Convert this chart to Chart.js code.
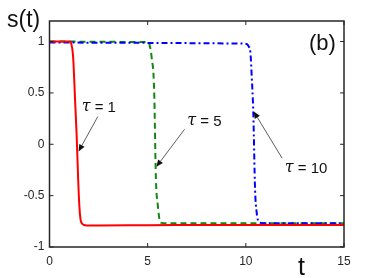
<!DOCTYPE html>
<html>
<head>
<meta charset="utf-8">
<script src="https://cdn.jsdelivr.net/npm/chart.js@4/dist/chart.umd.min.js"></script>
<style>
  html, body { margin: 0; padding: 0; background: #fff; }
  #wrap { width: 382px; height: 278px; }
</style>
</head>
<body>
<div id="wrap"><canvas id="chart" width="382" height="278"></canvas></div>
<script>
// s(t) switching curves for three delays

const xTicks = [0, 5, 10, 15];
const yTicks = [-1, -0.5, 0, 0.5, 1];

// tau = 1 (red, solid)
const t1 = [0, 1.05, 1.12, 1.18, 1.22, 1.3, 1.38, 1.46, 1.52, 1.58, 1.65, 1.75, 1.9, 2.5, 5, 10, 15];
const s1 = [1, 1, 0.97, 0.9, 0.8, 0.44, 0.1, -0.34, -0.6, -0.73, -0.77, -0.785, -0.79, -0.79, -0.788, -0.785, -0.785];

// tau = 5 (green, dashed)
const t5 = [0, 4.9, 5.05, 5.12, 5.2, 5.33, 5.42, 5.52, 5.6, 5.7, 6, 10, 15];
const s5 = [1, 0.995, 0.99, 0.95, 0.85, 0.53, -0.34, -0.6, -0.73, -0.765, -0.77, -0.77, -0.77];

// tau = 10 (blue, dash-dot)
const t10 = [0, 9.9, 10.06, 10.15, 10.23, 10.3, 10.38, 10.47, 10.55, 10.62, 10.75, 11, 15];
const s10 = [0.99, 0.98, 0.975, 0.95, 0.9, 0.66, 0.31, -0.44, -0.66, -0.74, -0.765, -0.77, -0.77];

// annotation labels: text anchor and arrow (start -> tip) in data units
const noteLabels = ['1', '5', '10'];
const noteText = [[2.51, 0.35], [7.89, 0.22], [13.07, -0.24]];
const noteFrom = [[2.46, 0.27], [6.88, 0.146], [11.85, -0.136]];
const noteTip = [[1.48, -0.07], [5.44, -0.22], [10.4, 0.32]];

const axisColor = '#262626';

function pts(xs, ys) {
  return xs.map((x, i) => ({ x: x, y: ys[i] }));
}

const boxPlugin = {
  id: 'box',
  afterDraw(chart) {
    const ctx = chart.ctx;
    const a = chart.chartArea;
    const xs = chart.scales.x, ys = chart.scales.y;
    ctx.save();
    ctx.strokeStyle = axisColor;
    ctx.lineWidth = 1.5;
    ctx.strokeRect(a.left, a.top, a.right - a.left, a.bottom - a.top);
    ctx.lineWidth = 1;
    ctx.beginPath();
    const tl = 4;
    xTicks.forEach(v => {
      const px = xs.getPixelForValue(v);
      ctx.moveTo(px, a.bottom); ctx.lineTo(px, a.bottom - tl);
      ctx.moveTo(px, a.top); ctx.lineTo(px, a.top + tl);
    });
    yTicks.forEach(v => {
      const py = ys.getPixelForValue(v);
      ctx.moveTo(a.left, py); ctx.lineTo(a.left + tl, py);
      ctx.moveTo(a.right, py); ctx.lineTo(a.right - tl, py);
    });
    ctx.stroke();

    // arrows + tau labels
    noteLabels.forEach((lab, i) => {
      const fx = xs.getPixelForValue(noteFrom[i][0]), fy = ys.getPixelForValue(noteFrom[i][1]);
      const tx = xs.getPixelForValue(noteTip[i][0]), ty = ys.getPixelForValue(noteTip[i][1]);
      ctx.strokeStyle = '#333';
      ctx.fillStyle = '#111';
      ctx.lineWidth = 0.8;
      const ang = Math.atan2(ty - fy, tx - fx);
      const hl = 7, hw = 3;
      const bx = tx - hl * Math.cos(ang), by = ty - hl * Math.sin(ang);
      ctx.beginPath();
      ctx.moveTo(fx, fy); ctx.lineTo(bx, by);
      ctx.stroke();
      ctx.beginPath();
      ctx.moveTo(tx, ty);
      ctx.lineTo(bx + hw * Math.sin(ang), by - hw * Math.cos(ang));
      ctx.lineTo(bx - hw * Math.sin(ang), by + hw * Math.cos(ang));
      ctx.closePath();
      ctx.fill();

      const cx = xs.getPixelForValue(noteText[i][0]), cy = ys.getPixelForValue(noteText[i][1]);
      ctx.fillStyle = '#111';
      ctx.textBaseline = 'middle';
      ctx.font = 'italic 16px "DejaVu Serif"';
      const tauW = ctx.measureText('\u03c4').width;
      ctx.font = '15px "Liberation Sans"';
      const rest = ' = ' + lab;
      const restW = ctx.measureText(rest).width;
      const x0 = cx - (tauW + restW) / 2;
      ctx.font = 'italic 16px "DejaVu Serif"';
      ctx.textAlign = 'left';
      ctx.fillText('\u03c4', x0, cy - 1);
      ctx.font = '15px "Liberation Sans"';
      ctx.fillText(rest, x0 + tauW, cy);
    });

    // axis titles and panel label
    ctx.fillStyle = '#111';
    ctx.textBaseline = 'alphabetic';
    ctx.textAlign = 'left';
    ctx.font = '23px "Liberation Sans"';
    ctx.fillText('s(t)', 7, 27);
    ctx.font = '22px "Liberation Sans"';
    ctx.fillText('(b)', 309, 50);
    ctx.font = '25px "Liberation Sans"';
    ctx.fillText('t', 298, 275);
    ctx.restore();
  }
};

new Chart(document.getElementById('chart'), {
  type: 'scatter',
  data: {
    datasets: [
      {
        label: 'tau = 1', data: pts(t1, s1), showLine: true, order: 0,
        borderColor: '#ff0000', borderWidth: 2, pointRadius: 0,
        cubicInterpolationMode: 'monotone'
      },
      {
        label: 'tau = 10', data: pts(t10, s10), showLine: true, order: 1,
        borderColor: '#0000ff', borderWidth: 2, borderDash: [6, 3, 2, 3], pointRadius: 0,
        cubicInterpolationMode: 'monotone'
      },
      {
        label: 'tau = 5', data: pts(t5, s5), showLine: true, order: 2,
        borderColor: '#118811', borderWidth: 2, borderDash: [6, 4], pointRadius: 0,
        cubicInterpolationMode: 'monotone'
      }
    ]
  },
  options: {
    responsive: false,
    animation: false,
    layout: { padding: { left: 0, top: 21, right: 38, bottom: 0 } },
    plugins: { legend: { display: false }, tooltip: { enabled: false } },
    scales: {
      x: {
        type: 'linear', min: 0, max: 15,
        afterBuildTicks: s => { s.ticks = xTicks.map(v => ({ value: v })); },
        afterFit: s => { s.height = 31; },
        grid: { display: false, drawTicks: false },
        border: { display: false },
        ticks: { color: axisColor, font: { family: 'Liberation Sans', size: 12 }, padding: 7, maxRotation: 0,
          callback: v => String(v) }
      },
      y: {
        type: 'linear', min: -1, max: 1.2,
        afterBuildTicks: s => { s.ticks = yTicks.map(v => ({ value: v })); },
        afterFit: s => { s.width = 49.5; },
        grid: { display: false, drawTicks: false },
        border: { display: false },
        ticks: { color: axisColor, font: { family: 'Liberation Sans', size: 12 }, padding: 5,
          callback: v => String(v) }
      }
    }
  },
  plugins: [boxPlugin]
});
</script>
</body>
</html>
